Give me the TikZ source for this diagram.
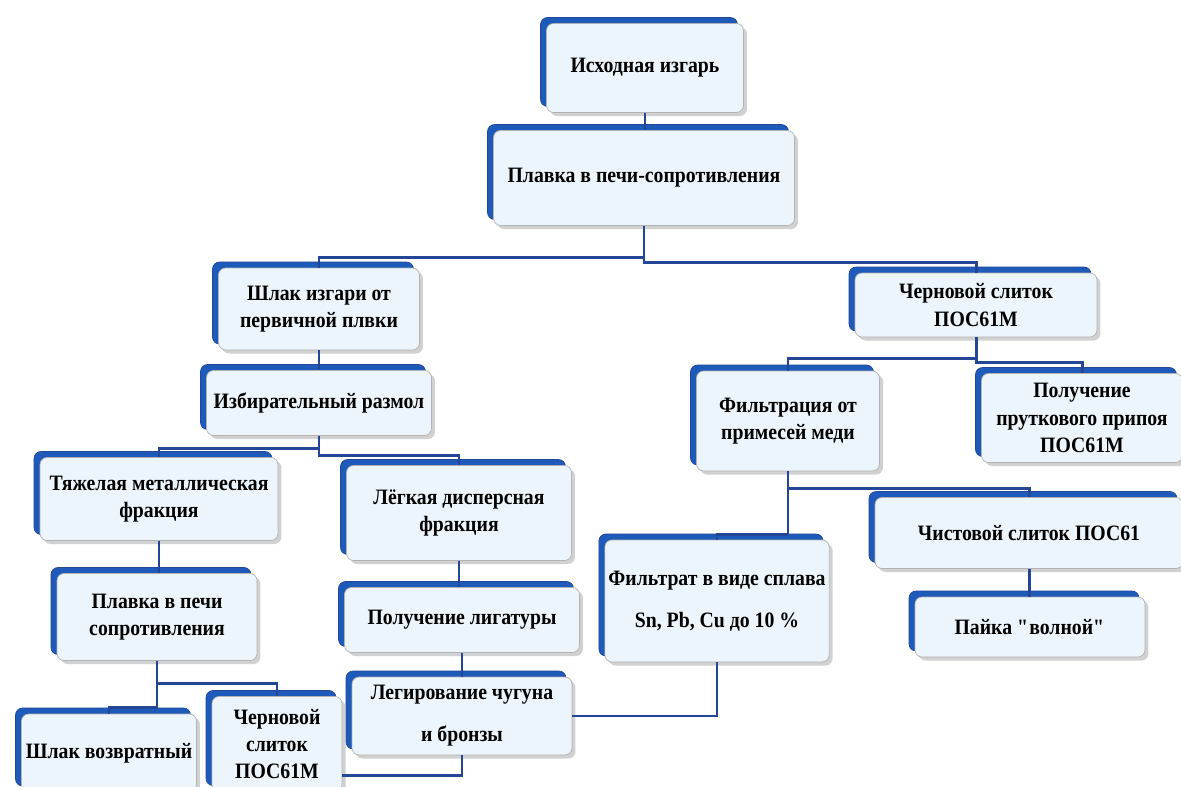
\documentclass[tikz,border=0pt]{standalone}
\usepackage{fontspec}
\setmainfont{Liberation Serif}[FakeStretch=0.9]
\usepackage{tikz}
\usetikzlibrary{shadows,positioning}
\definecolor{kant}{RGB}{30,90,185}
\definecolor{linia}{RGB}{35,70,150}
\definecolor{fon}{RGB}{236,245,252}
\tikzset{
    font=\fontsize{12.5}{15.5}\selectfont\bfseries,
    %Define style for boxes
    blok/.style={
           rectangle,
           rounded corners=4pt,
           draw=gray!60, thin,
           fill=fon,
           align=center,
           inner sep=2pt,
           drop shadow={shadow xshift=2pt,shadow yshift=-2pt,fill=gray!60,opacity=0.6},
           general shadow={shadow xshift=-0.12cm,shadow yshift=0.12cm,fill=kant,draw=linia,thin}},
    % Define connector style
    lin/.style={
           draw=linia,
           line width=1.7pt}
}

\begin{document}
\begin{tikzpicture}[x=0.02cm,y=-0.02cm]
  \useasboundingbox (0,0) rectangle (1181,787);
  \node[blok,minimum width=3.94cm,minimum height=1.78cm] (izgar) at (645,68) {Исходная изгарь};
  \node[blok,minimum width=6.02cm,minimum height=1.9cm] (plavka) at (644,178) {Плавка в печи-сопротивления};
  \node[blok,minimum width=4.02cm,minimum height=1.64cm] (shlak) at (319,309) {Шлак изгари от\\первичной плвки};
  \node[blok,minimum width=4.84cm,minimum height=1.28cm] (chern) at (976,305) {Черновой слиток\\ПОС61М};
  \node[blok,minimum width=4.5cm,minimum height=1.3cm] (razmol) at (319,403) {Избирательный размол};
  \node[blok,minimum width=3.66cm,minimum height=2.0cm] (filtr) at (788,421) {Фильтрация от\\примесей меди};
  \node[blok,minimum width=4.02cm,minimum height=1.78cm] (prutok) at (1082,418) {Получение\\пруткового припоя\\ПОС61М};
  \node[blok,minimum width=4.76cm,minimum height=1.66cm] (tyazh) at (159,499) {Тяжелая металлическая\\фракция};
  \node[blok,minimum width=4.5cm,minimum height=1.9cm] (legk) at (459,513) {Лёгкая дисперсная\\фракция};
  \node[blok,minimum width=6.16cm,minimum height=1.42cm] (chist) at (1029,533) {Чистовой слиток ПОС61};
  \node[blok,minimum width=4.18cm,minimum height=2.44cm,font=\fontsize{12.5}{24}\selectfont\bfseries] (filtrat) at (717,601) {Фильтрат в виде сплава\\Sn, Pb, Cu до 10 \%};
  \node[blok,minimum width=4.0cm,minimum height=1.74cm] (plavka2) at (157,617) {Плавка в печи\\сопротивления};
  \node[blok,minimum width=4.7cm,minimum height=1.3cm] (ligatura) at (462,620) {Получение лигатуры};
  \node[blok,minimum width=4.6cm,minimum height=1.2cm] (pajka) at (1030,627) {Пайка \textquotedbl волной\textquotedbl};
  \node[blok,minimum width=4.4cm,minimum height=1.56cm,font=\fontsize{12.5}{24}\selectfont\bfseries] (legir) at (462,716) {Легирование чугуна\\и бронзы};
  \node[blok,minimum width=3.5cm,minimum height=1.56cm] (shlakv) at (109,753) {Шлак возвратный};
  \node[blok,minimum width=2.6cm,minimum height=1.9cm] (chern2) at (277,744) {Черновой\\слиток\\ПОС61М};
  % connectors
  \draw[lin] (izgar.south) -- (izgar.south |- plavka.north);
  \draw[lin] (plavka.south) -- ++(0,32) -| (shlak.north);
  \draw[lin] (plavka.south) -- ++(0,37) -| (chern.north);
  \draw[lin] (shlak.south) -- (shlak.south |- razmol.north);
  \draw[lin] (chern.south) -- ++(0,21) -| (filtr.north);
  \draw[lin] (chern.south) -- ++(0,25) -| (prutok.north);
  \draw[lin] (razmol.south) -- ++(0,13) -| (tyazh.north);
  \draw[lin] (razmol.south) -- ++(0,20) -| (legk.north);
  \draw[lin] (tyazh.south) -- (tyazh.south |- plavka2.north);
  \draw[lin] (plavka2.south) -- ++(0,23) -| (chern2.north);
  \draw[lin] (plavka2.south) -- ++(0,47) -| (shlakv.north);
  \draw[lin] (legk.south) -- (legk.south |- ligatura.north);
  \draw[lin] (ligatura.south) -- (ligatura.south |- legir.north);
  \draw[lin] (legir.south) -- ++(0,20) coordinate (k) -- (k -| chern2.east);
  \draw[lin] (filtrat.south) |- (legir.east);
  \draw[lin] (filtr.south) -- ++(0,63) -| (filtrat.north);
  \draw[lin] (filtr.south) -- ++(0,17) -| (chist.north);
  \draw[lin] (chist.south) -- (chist.south |- pajka.north);
\end{tikzpicture}
\end{document}
